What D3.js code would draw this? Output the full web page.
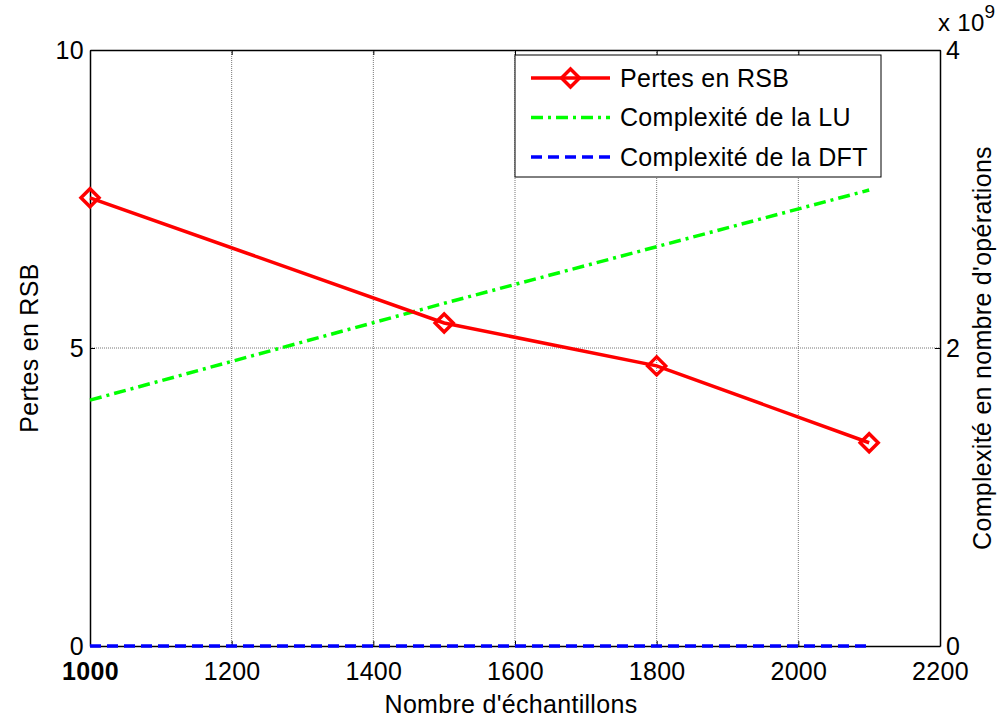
<!DOCTYPE html>
<html>
<head>
<meta charset="utf-8">
<script src="https://cdn.jsdelivr.net/npm/d3@7"></script>
<style>
  body { margin: 0; background: #fff; }
  svg text { font-family: Arial, "Liberation Sans", sans-serif; fill: #000; letter-spacing: 0.3px; }
</style>
</head>
<body>
<div id="chart"></div>
<script>
// Data.
const samples = [1000, 1500, 1800, 2100];
const rsb_loss = [7.52, 5.42, 4.70, 3.41];
const lu_ops = [1.65e9, 2.30e9, 2.68e9, 3.06e9];
const dft_ops = [1.0e4, 1.6e4, 1.9e4, 2.3e4];
const x_ticks = [1000, 1200, 1400, 1600, 1800, 2000, 2200];
const y_left_ticks = [0, 5, 10];
const y_right_ticks = [0, 2e9, 4e9];
const legend_labels = ['Pertes en RSB', 'Complexité de la LU', 'Complexité de la DFT'];

const width = 999, height = 718;
const margin = { left: 90, right: 59, top: 50, bottom: 72 };
const plot_w = width - margin.left - margin.right;
const plot_h = height - margin.top - margin.bottom;
const font_size = '25px';

const svg = d3.select('#chart').append('svg')
  .attr('width', width).attr('height', height);
const g = svg.append('g')
  .attr('transform', 'translate(' + margin.left + ',' + margin.top + ')');

const x = d3.scaleLinear().domain([1000, 2200]).range([0, plot_w]);
const y_left = d3.scaleLinear().domain([0, 10]).range([plot_h, 0]);
const y_right = d3.scaleLinear().domain([0, 4e9]).range([plot_h, 0]);

// Grid lines
g.append('g').selectAll('line')
  .data(x_ticks.slice(1, -1))
  .enter().append('line')
    .attr('x1', d => x(d)).attr('x2', d => x(d))
    .attr('y1', 0).attr('y2', plot_h)
    .attr('stroke', '#777').attr('stroke-width', 1).attr('stroke-dasharray', '1,1');
g.append('g').selectAll('line')
  .data(y_left_ticks.slice(1, -1))
  .enter().append('line')
    .attr('x1', 0).attr('x2', plot_w)
    .attr('y1', d => y_left(d)).attr('y2', d => y_left(d))
    .attr('stroke', '#777').attr('stroke-width', 1).attr('stroke-dasharray', '1,1');

// Axes (ticks inside, like MATLAB)
function style_axis(sel) {
  sel.select('.domain').attr('stroke', '#000').attr('stroke-width', 1.5);
  sel.selectAll('.tick line').attr('stroke', '#000');
  sel.selectAll('.tick text').style('font-size', font_size);
}
const x_axis = g.append('g')
  .attr('transform', 'translate(0,' + plot_h + ')')
  .call(d3.axisBottom(x).tickValues(x_ticks).tickSize(-5).tickSizeOuter(0).tickPadding(16)
    .tickFormat(d3.format('d')))
  .call(style_axis);
// Both axes print "1000", which shows up bolder
x_axis.selectAll('.tick text').filter(d => d === 1000).style('font-weight', 'bold');

g.append('g')
  .call(d3.axisTop(x).tickValues(x_ticks).tickSize(-5).tickSizeOuter(0).tickFormat(''))
  .call(style_axis);

g.append('g')
  .call(d3.axisLeft(y_left).tickValues(y_left_ticks).tickSize(-5).tickSizeOuter(0).tickPadding(6))
  .call(style_axis);

g.append('g')
  .attr('transform', 'translate(' + plot_w + ',0)')
  .call(d3.axisRight(y_right).tickValues(y_right_ticks).tickSize(-5).tickSizeOuter(0).tickPadding(6)
    .tickFormat(d => d / 1e9))
  .call(style_axis);

// Series lines
const line_rsb = d3.line().x((d, i) => x(samples[i])).y(d => y_left(d));
const line_ops = d3.line().x((d, i) => x(samples[i])).y(d => y_right(d));

g.append('path').datum(dft_ops)
  .attr('d', line_ops).attr('fill', 'none')
  .attr('stroke', '#0000ff').attr('stroke-width', 3.5).attr('stroke-dasharray', '11,6');

g.append('path').datum(lu_ops)
  .attr('d', line_ops).attr('fill', 'none')
  .attr('stroke', '#00ff00').attr('stroke-width', 3.5).attr('stroke-dasharray', '12,5,3,5');

g.append('path').datum(rsb_loss)
  .attr('d', line_rsb).attr('fill', 'none')
  .attr('stroke', '#ff0000').attr('stroke-width', 3.5);

const diamond = 'M0,-9L9,0L0,9L-9,0Z';
g.append('g').selectAll('path')
  .data(rsb_loss)
  .enter().append('path')
    .attr('d', diamond)
    .attr('transform', (d, i) => 'translate(' + x(samples[i]) + ',' + y_left(d) + ')')
    .attr('fill', 'none').attr('stroke', '#ff0000').attr('stroke-width', 3.5);

// Axis titles
svg.append('text')
  .attr('x', 511).attr('y', 713)
  .attr('text-anchor', 'middle').style('font-size', font_size)
  .text("Nombre d'échantillons");
svg.append('text')
  .attr('transform', 'translate(38,' + (margin.top + plot_h / 2) + ') rotate(-90)')
  .attr('text-anchor', 'middle').style('font-size', font_size)
  .text('Pertes en RSB');
svg.append('text')
  .attr('transform', 'translate(991,' + (margin.top + plot_h / 2) + ') rotate(-90)')
  .attr('text-anchor', 'middle').style('font-size', font_size)
  .text("Complexité en nombre d'opérations");

// Exponent label for right axis
const expo = svg.append('text')
  .attr('x', 938).attr('y', 31).style('font-size', '24px');
expo.append('tspan').text('x 10');
expo.append('tspan').attr('dy', -13).style('font-size', '19px').text('9');

// Legend
const lg = g.append('g').attr('transform', 'translate(' + (515 - margin.left) + ',' + (55 - margin.top) + ')');
lg.append('rect')
  .attr('width', 366).attr('height', 122)
  .attr('fill', '#fff').attr('stroke', '#000').attr('stroke-width', 1);
const legend_styles = [
  { color: '#ff0000', dash: null, marker: true },
  { color: '#00ff00', dash: '12,5,3,5', marker: false },
  { color: '#0000ff', dash: '11,6', marker: false }
];
legend_labels.forEach(function(label, i) {
  const row_y = 23 + i * 39.5;
  lg.append('line')
    .attr('x1', 16).attr('x2', 95).attr('y1', row_y).attr('y2', row_y)
    .attr('stroke', legend_styles[i].color).attr('stroke-width', 3.5)
    .attr('stroke-dasharray', legend_styles[i].dash);
  if (legend_styles[i].marker) {
    lg.append('path').attr('d', diamond)
      .attr('transform', 'translate(55.5,' + row_y + ')')
      .attr('fill', 'none').attr('stroke', '#ff0000').attr('stroke-width', 3.5);
  }
  lg.append('text')
    .attr('x', 105).attr('y', row_y).attr('dy', '0.35em')
    .style('font-size', font_size)
    .text(label);
});
</script>
</body>
</html>
